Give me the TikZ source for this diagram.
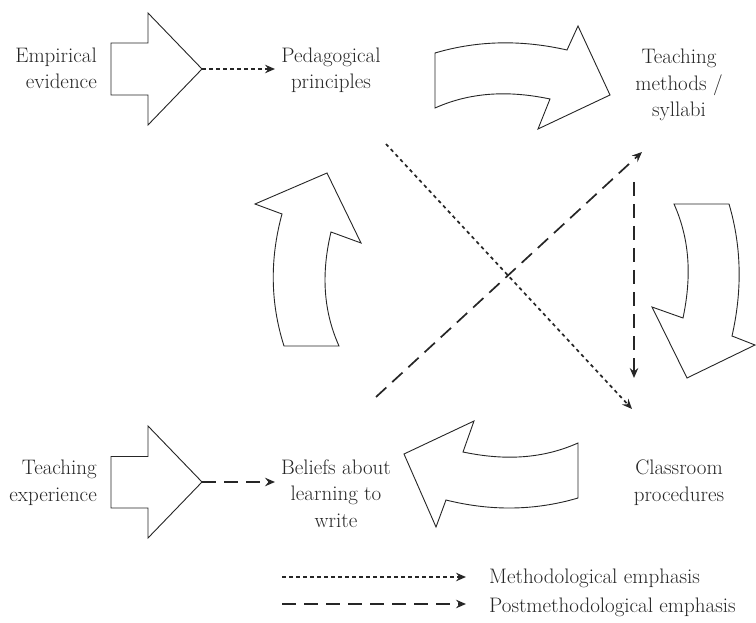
\documentclass[tikz,border=0pt]{standalone}
\usepackage{fontspec}
\usetikzlibrary{arrows.meta}
\begin{document}
\begin{tikzpicture}[x=1pt,y=-1pt,
  lbl/.style={font=\fontsize{21}{26.5}\selectfont, inner sep=0pt, text=black!85},
  blk/.style={draw=black!85, line width=0.9pt, fill=white, line join=miter},
  conn/.style={line width=1.7pt, draw=black!85, -{Stealth[length=10pt,width=8.5pt,inset=3.5pt]}},
  dotconn/.style={conn, dash pattern=on 3.5pt off 3.5pt},
  dashconn/.style={conn, dash pattern=on 14pt off 8pt}]
\useasboundingbox (0,0) rectangle (756,623);

% labels
\node[lbl, align=right, anchor=base east] (emp) at (97,89) {Empirical\\evidence};
\node[lbl, align=center, anchor=base] (ped) at (331,89) {Pedagogical\\principles};
\node[lbl, align=center, anchor=base] (tm) at (679,117) {Teaching\\methods /\\syllabi};
\node[lbl, align=right, anchor=base east] (tex) at (97,501) {Teaching\\experience};
\node[lbl, align=center, anchor=base] (bel) at (336,527) {Beliefs about\\learning to\\write};
\node[lbl, align=center, anchor=base] (cp) at (679,501) {Classroom\\procedures};
\node[lbl, anchor=base west] (leg1) at (489,583) {Methodological emphasis};
\node[lbl, anchor=base west] (leg2) at (489,612) {Postmethodological emphasis};

% straight block arrows
\draw[blk] (111,43) -- (148,43) -- (148,13) -- (202,69) -- (148,125) -- (148,95) -- (111,95) -- cycle;
\coordinate (tipE) at (202,69);
\draw[blk] (111,456.5) -- (148,456.5) -- (148,426) -- (202,482) -- (148,538) -- (148,508) -- (111,508) -- cycle;
\coordinate (tipT) at (202,482);

% curved cycle arrows
\draw[blk] (435,53) .. controls (479,40) and (523,40) .. (567,50) -- (578,26) -- (610,95) -- (538,129) -- (550,99)
  .. controls (512,91) and (473,91) .. (435,108) -- cycle;
\draw[blk] (674,204) -- (729,204) .. controls (742,248) and (742,292) .. (732,336) -- (755,345) -- (687,378) -- (652,307) -- (683,318)
  .. controls (691,280) and (691,242) .. (674,204) -- cycle;
\draw[blk] (578,443) .. controls (540,460) and (501,460) .. (463,452) -- (474,421) -- (404,454) -- (436,527) -- (446,500)
  .. controls (490,511) and (534,511) .. (578,498) -- cycle;
\draw[blk] (284,346) -- (339,346) .. controls (322,308) and (322,270) .. (331,232) -- (361,243) -- (327,173) -- (255,204) -- (282,214)
  .. controls (270,258) and (270,302) .. (284,346) -- cycle;

% connector end points
\coordinate (pedIn) at (275,69);
\coordinate (belIn) at (275,482);
\coordinate (dotS) at (386,144);
\coordinate (dotE) at (632,409);
\coordinate (dashS) at (376,397);
\coordinate (dashE) at (642,152);
\coordinate (vS) at (634,182);
\coordinate (vE) at (634,378);
\coordinate (l1s) at (282,577);
\coordinate (l1e) at (466,577);
\coordinate (l2s) at (282,604);
\coordinate (l2e) at (466,604);

\draw[dotconn] (tipE) -- (pedIn);
\draw[dashconn] (tipT) -- (belIn);
\draw[dotconn] (dotS) -- (dotE);
\draw[dashconn] (dashS) -- (dashE);
\draw[dashconn] (vS) -- (vE);
\draw[dotconn] (l1s) -- (l1e);
\draw[dashconn] (l2s) -- (l2e);
\end{tikzpicture}
\end{document}
